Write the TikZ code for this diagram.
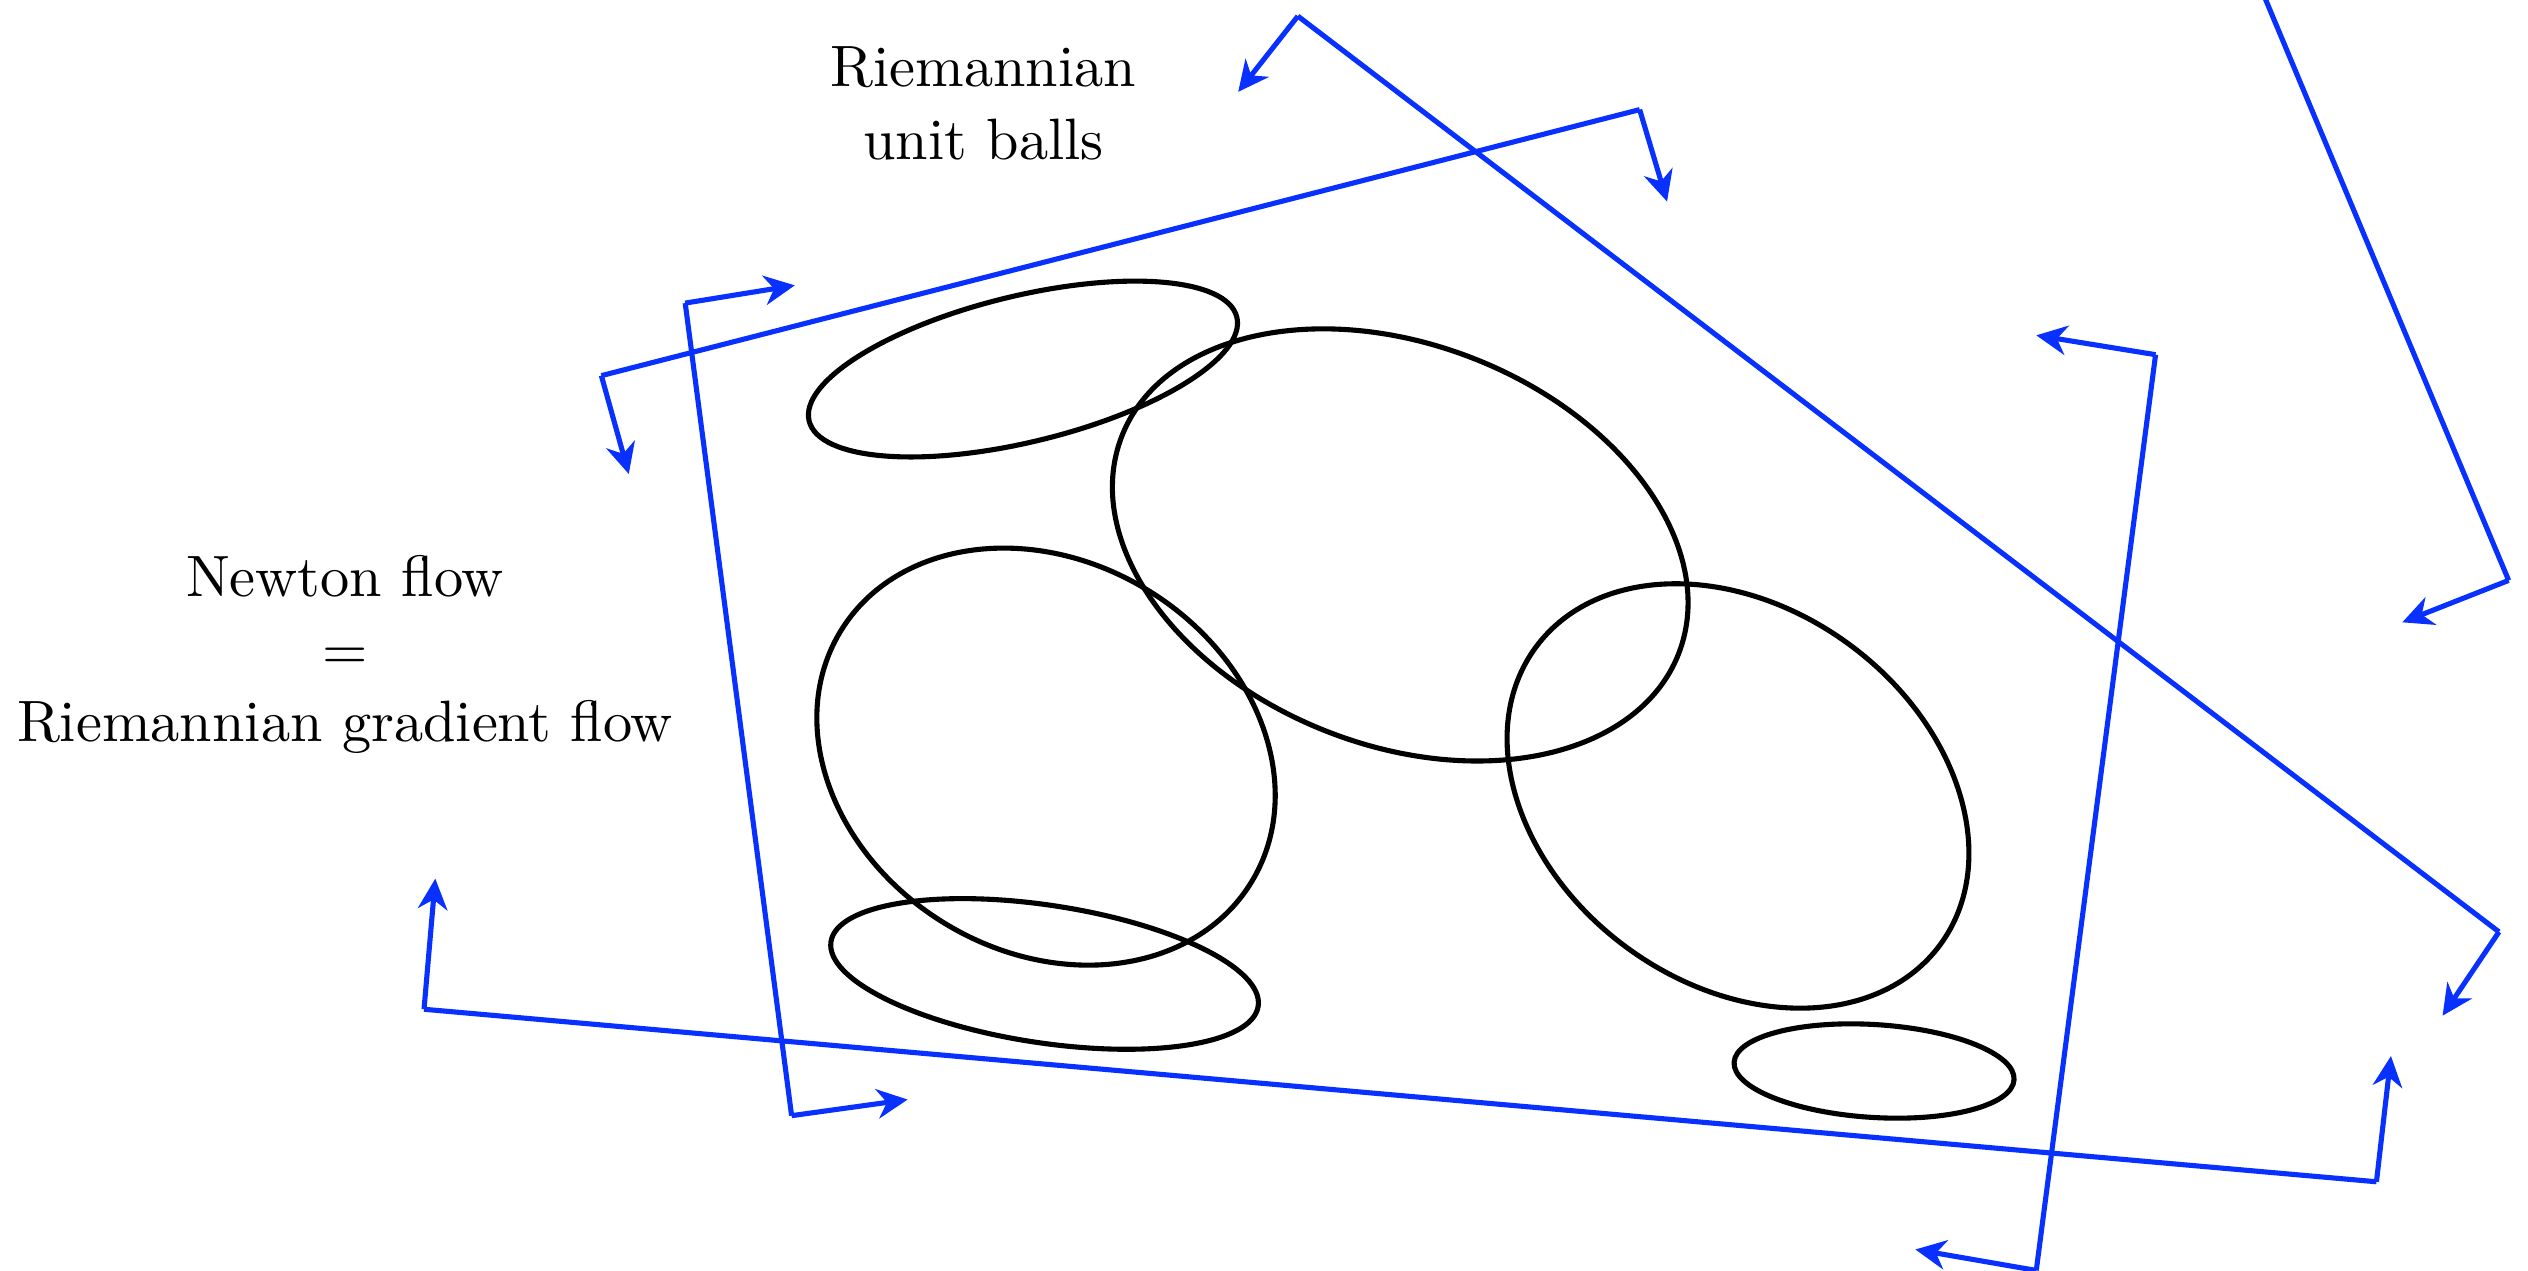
\documentclass[tikz,border=0pt]{standalone}
\usetikzlibrary{arrows.meta}
\definecolor{frameblue}{RGB}{8,48,255}
\tikzset{
  frameline/.style={draw=frameblue, line width=0.9pt},
  framearrow/.style={frameline, -{Stealth[length=5.4pt,width=5.2pt,inset=1.7pt]}},
  ball/.style={draw=black, line width=0.9pt},
  label/.style={inner sep=0pt, align=center, font=\fontsize{10.3}{12.8}\selectfont}
}
\begin{document}
\begin{tikzpicture}[x=0.1mm, y=-0.1mm]
\useasboundingbox (0,0) rectangle (1568,788);
\clip (0,0) rectangle (1568,788);

% text
\node[label] (unitballs) at (610,64) {Riemannian\\unit balls};
\node[label] (newton) at (214,406) {Newton flow\\=\\Riemannian gradient flow};

% ellipses (Riemannian unit balls)
\draw[ball, rotate around={13.64:(634.5,228.9)}] (634.5,228.9) ellipse [x radius=13.65mm, y radius=4.53mm];
\draw[ball, rotate around={-21.35:(868.5,338)}] (868.5,338) ellipse [x radius=18.54mm, y radius=12.43mm];
\draw[ball, rotate around={-31.5:(648.8,469.3)}] (648.8,469.3) ellipse [x radius=14.93mm, y radius=12.1mm];
\draw[ball, rotate around={-36.3:(1078,493.7)}] (1078,493.7) ellipse [x radius=15.57mm, y radius=11.66mm];
\draw[ball, rotate around={-8.58:(647.9,604.1)}] (647.9,604.1) ellipse [x radius=13.4mm, y radius=4.27mm];
\draw[ball, rotate around={-3.58:(1162.4,664.3)}] (1162.4,664.3) ellipse [x radius=8.7mm, y radius=2.88mm];

% frame coordinates
\coordinate (c1a) at (805,10);   \coordinate (t1a) at (768,57);
\coordinate (c1b) at (1550,578); \coordinate (t1b) at (1515,630);
\coordinate (c2a) at (1017,68);  \coordinate (t2a) at (1034,125);
\coordinate (c2b) at (373,233);  \coordinate (t2b) at (390,294);
\coordinate (c3a) at (425,188);  \coordinate (t3a) at (493,177);
\coordinate (c3b) at (491,692);  \coordinate (t3b) at (563,682);
\coordinate (c4a) at (263,626);  \coordinate (t4a) at (270,545);
\coordinate (c4b) at (1474,733); \coordinate (t4b) at (1483,655);
\coordinate (c5a) at (1337,220); \coordinate (t5a) at (1263,208);
\coordinate (c5b) at (1263,788); \coordinate (t5b) at (1188,775);
\coordinate (c6a) at (1397,-20);
\coordinate (c6b) at (1556,360); \coordinate (t6b) at (1490,386);

% frames
\draw[frameline] (c1a) -- (c1b);
\draw[framearrow] (c1a) -- (t1a);
\draw[framearrow] (c1b) -- (t1b);

\draw[frameline] (c2a) -- (c2b);
\draw[framearrow] (c2a) -- (t2a);
\draw[framearrow] (c2b) -- (t2b);

\draw[frameline] (c3a) -- (c3b);
\draw[framearrow] (c3a) -- (t3a);
\draw[framearrow] (c3b) -- (t3b);

\draw[frameline] (c4a) -- (c4b);
\draw[framearrow] (c4a) -- (t4a);
\draw[framearrow] (c4b) -- (t4b);

\draw[frameline] (c5a) -- (c5b);
\draw[framearrow] (c5a) -- (t5a);
\draw[framearrow] (c5b) -- (t5b);

\draw[frameline] (c6a) -- (c6b);
\draw[framearrow] (c6b) -- (t6b);
\end{tikzpicture}
\end{document}
